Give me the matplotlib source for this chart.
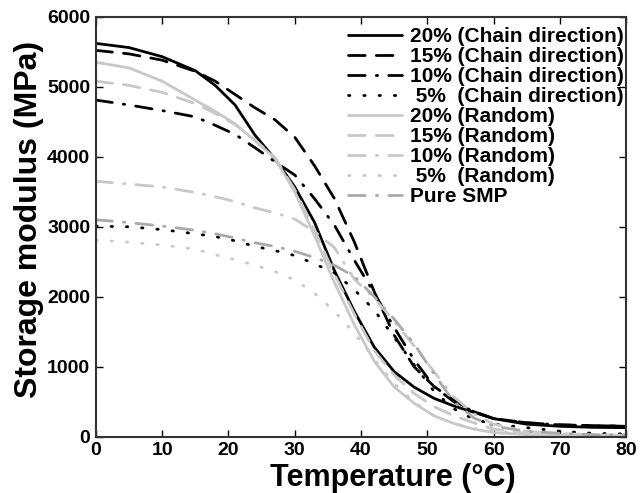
import matplotlib
matplotlib.use("Agg")
from matplotlib import pyplot as plt

plt.rcParams['font.family'] = ['Liberation Sans', 'DejaVu Sans']
plt.rcParams['font.weight'] = 'bold'

# temperature points (°C)
temps = [0, 5, 10, 15, 18, 21, 24, 27, 30, 33, 36, 39, 42, 45, 48, 51, 54, 57, 60, 65, 70, 75, 80]

# storage modulus (MPa)
chain_20 = [5620, 5560, 5430, 5230, 5020, 4740, 4310, 3970, 3570, 3060, 2370, 1790, 1280, 930, 710, 550, 440, 350, 260, 180, 150, 135, 130]
chain_15 = [5520, 5470, 5380, 5220, 5080, 4890, 4700, 4530, 4280, 3870, 3400, 2780, 2070, 1450, 1000, 720, 520, 360, 260, 200, 170, 160, 150]
chain_10 = [4810, 4740, 4660, 4570, 4450, 4320, 4130, 3930, 3740, 3400, 3020, 2520, 2050, 1560, 1100, 720, 500, 360, 260, 200, 170, 160, 150]
chain_5 = [3010, 3000, 2960, 2900, 2860, 2800, 2720, 2660, 2590, 2470, 2340, 2100, 1810, 1420, 1030, 650, 400, 250, 180, 130, 80, 50, 40]
rand_20 = [5350, 5270, 5080, 4810, 4650, 4470, 4230, 3980, 3500, 2870, 2200, 1600, 1080, 710, 480, 300, 190, 110, 60, 30, 20, 15, 10]
rand_15 = [5080, 5020, 4920, 4760, 4620, 4460, 4240, 3990, 3530, 2950, 2320, 1750, 1230, 880, 620, 430, 300, 200, 110, 50, 30, 20, 15]
rand_10 = [3650, 3610, 3570, 3490, 3430, 3360, 3270, 3200, 3110, 2930, 2700, 2250, 1980, 1650, 1300, 930, 570, 330, 180, 80, 45, 30, 20]
rand_5 = [2810, 2780, 2740, 2680, 2600, 2530, 2450, 2360, 2240, 2050, 1790, 1480, 1110, 760, 500, 300, 190, 120, 80, 40, 25, 15, 10]
pure_smp = [3100, 3060, 3010, 2950, 2900, 2840, 2770, 2720, 2650, 2560, 2450, 2290, 2000, 1680, 1330, 900, 500, 270, 150, 80, 50, 30, 30]

labels = ["20% (Chain direction)", "15% (Chain direction)", "10% (Chain direction)",
          " 5%  (Chain direction)", "20% (Random)", "15% (Random)", "10% (Random)",
          " 5%  (Random)", "Pure SMP"]

series = [chain_20, chain_15, chain_10, chain_5, rand_20, rand_15, rand_10, rand_5, pure_smp]
black = "black"
light = "#c8c8c8"
mid = "#a9a9a9"
colors = [black, black, black, black, light, light, light, light, mid]
dash_styles = [None, (6, 4), (6, 4, 0.5, 4), (0.5, 5), None, (6, 4), (6, 4, 0.5, 4), (0.5, 5), (6, 4, 0.5, 4)]

fig = plt.figure(figsize=(6.43, 4.93), dpi=100)
ax = fig.add_axes([0.149, 0.114, 0.825, 0.852])

for vals, lab, col, ds in zip(series, labels, colors, dash_styles):
    line, = ax.plot(temps, vals, color=col, linewidth=2.0, label=lab,
                    solid_capstyle='round', dash_capstyle='round')
    if ds is not None:
        line.set_dashes(ds)

ax.set_xlim(0, 80)
ax.set_ylim(0, 6000)
ax.set_xticks(range(0, 81, 10))
ax.set_yticks(range(0, 6001, 1000))
ax.tick_params(direction='in', top=True, right=True, length=5, width=1, labelsize=14, pad=4)
for lab in ax.get_xticklabels() + ax.get_yticklabels():
    lab.set_fontweight('bold')
for sp in ax.spines.values():
    sp.set_linewidth(1.5)
    sp.set_color('#333333')

ax.set_xlabel("Temperature (°C)", fontsize=22, fontweight='bold')
ax.set_ylabel("Storage modulus (MPa)", fontsize=23, fontweight='bold')
ax.xaxis.set_label_coords(0.56, -0.062)
ax.yaxis.set_label_coords(-0.098, 0.517)

leg = ax.legend(loc='upper left', bbox_to_anchor=(0.475, 0.976), frameon=False,
                fontsize=15, handlelength=2.6, handletextpad=0.4, labelspacing=0.05,
                borderpad=0, borderaxespad=0)
for t in leg.get_texts():
    t.set_fontweight('bold')

fig.savefig("out.png", dpi=100)
plt.close(fig)
